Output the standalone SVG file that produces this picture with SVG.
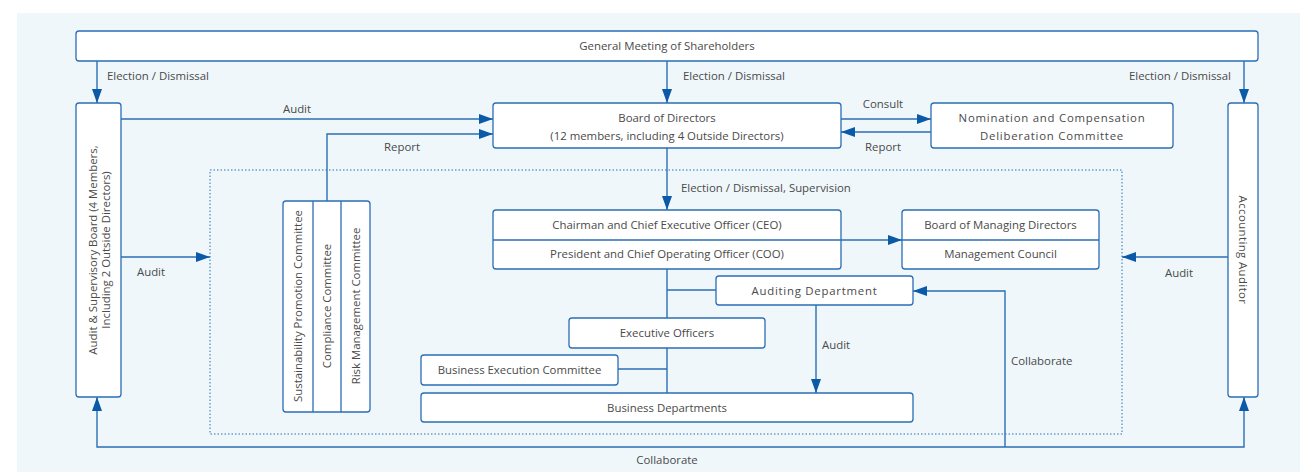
<svg xmlns="http://www.w3.org/2000/svg" width="1303" height="472" viewBox="0 0 1303 472">
<style>
.bx{fill:#fff;stroke:#2a6fb5;stroke-width:1.3}
.dv{stroke:#2a6fb5;stroke-width:1.3;fill:none}
.ln{stroke:#2a6fb5;stroke-width:1.4;fill:none}
.t{font-family:"Open Sans","Noto Sans","Liberation Sans",sans-serif;font-size:11.4px;fill:#4a4a4a;font-weight:400}
.c{text-anchor:middle}
.sp{letter-spacing:0.75px}
</style>
<defs>
<marker id="ah" viewBox="0 0 14 10" refX="14" refY="5" markerWidth="14" markerHeight="10" markerUnits="userSpaceOnUse" orient="auto-start-reverse">
<path d="M0 0L14 5L0 10Z" fill="#0a5aa8"/>
</marker>
</defs>
<rect x="17" y="13" width="1283" height="459" fill="#eff7fb"/>
<rect x="210" y="170" width="912" height="264" fill="none" stroke="#2a6fb5" stroke-width="1" stroke-dasharray="1.5 2"/>

<g id="connectors">
<path class="ln" d="M97 61V103" marker-end="url(#ah)"/>
<path class="ln" d="M667 61V103" marker-end="url(#ah)"/>
<path class="ln" d="M1244 61V103" marker-end="url(#ah)"/>
<path class="ln" d="M121 119H493" marker-end="url(#ah)"/>
<path class="ln" d="M327 201V134H493" marker-end="url(#ah)"/>
<path class="ln" d="M841 119H931" marker-end="url(#ah)"/>
<path class="ln" d="M931 132H841" marker-end="url(#ah)"/>
<path class="ln" d="M667 148V210" marker-end="url(#ah)"/>
<path class="ln" d="M121 257H210" marker-end="url(#ah)"/>
<path class="ln" d="M1228 257H1122" marker-end="url(#ah)"/>
<path class="ln" d="M841 240H902" marker-end="url(#ah)"/>
<path class="ln" d="M667 269V393"/>
<path class="ln" d="M667 290H716"/>
<path class="ln" d="M618 369H667"/>
<path class="ln" d="M816 305V393" marker-end="url(#ah)"/>
<path class="ln" d="M1005 447V291H913" marker-end="url(#ah)"/>
<path class="ln" d="M97 397V447H1244V397" marker-start="url(#ah)" marker-end="url(#ah)"/>
<text class="t" x="107" y="80">Election / Dismissal</text>
<text class="t" x="683" y="80">Election / Dismissal</text>
<text class="t" x="1129" y="80">Election / Dismissal</text>
<text class="t c" x="297" y="113">Audit</text>
<text class="t c" x="402" y="151">Report</text>
<text class="t c" x="883" y="108">Consult</text>
<text class="t c" x="883" y="151">Report</text>
<text class="t" x="681" y="192">Election / Dismissal, Supervision</text>
<text class="t c" x="151" y="276">Audit</text>
<text class="t c" x="1179" y="277">Audit</text>
<text class="t" x="822" y="349">Audit</text>
<text class="t" x="1011" y="365">Collaborate</text>
<text class="t c" x="667" y="464">Collaborate</text>
</g>

<g id="gms">
<rect class="bx" x="76" y="31" width="1182" height="30" rx="3"/>
<text class="t c" x="667" y="50">General Meeting of Shareholders</text>
</g>

<g id="asb">
<rect class="bx" x="76" y="103" width="45" height="294" rx="3"/>
<text class="t c" transform="translate(98.5 250) rotate(-90)"><tspan x="0" y="-2">Audit &amp; Supervisory Board (4 Members,</tspan><tspan x="0" y="11">Including 2 Outside Directors)</tspan></text>
</g>

<g id="aa">
<rect class="bx" x="1228" y="103" width="30" height="294" rx="3"/>
<text class="t c" transform="translate(1243 250) rotate(90)" y="4" letter-spacing="0.4">Accounting Auditor</text>
</g>

<g id="bod">
<rect class="bx" x="493" y="103" width="348" height="45" rx="3"/>
<text class="t c" x="667" y="122">Board of Directors</text>
<text class="t c" x="667" y="140">(12 members, including 4 Outside Directors)</text>
</g>

<g id="ncdc">
<rect class="bx" x="931" y="103" width="242" height="45" rx="3"/>
<text class="t c sp" x="1052" y="122">Nomination and Compensation</text>
<text class="t c sp" x="1052" y="140">Deliberation Committee</text>
</g>

<g id="committees">
<rect class="bx" x="283" y="201" width="87" height="211" rx="3"/>
<path class="dv" d="M313 201V412M341 201V412"/>
<text class="t c" transform="translate(298 306) rotate(-90)" y="4">Sustainability Promotion Committee</text>
<text class="t c" transform="translate(327 306) rotate(-90)" y="4">Compliance Committee</text>
<text class="t c" transform="translate(355.5 306) rotate(-90)" y="4">Risk Management Committee</text>
</g>

<g id="ceo">
<rect class="bx" x="493" y="210" width="348" height="59" rx="3"/>
<path class="dv" d="M493 240H841"/>
<text class="t c" x="667" y="229">Chairman and Chief Executive Officer (CEO)</text>
<text class="t c" x="667" y="258">President and Chief Operating Officer (COO)</text>
</g>

<g id="bmd">
<rect class="bx" x="902" y="210" width="197" height="59" rx="3"/>
<path class="dv" d="M902 240H1099"/>
<text class="t c" x="1000.5" y="229">Board of Managing Directors</text>
<text class="t c" x="1000.5" y="258">Management Council</text>
</g>

<g id="auditdept">
<rect class="bx" x="716" y="276" width="197" height="29" rx="3"/>
<text class="t c sp" x="814.5" y="295">Auditing Department</text>
</g>

<g id="execofficers">
<rect class="bx" x="569" y="318" width="196" height="30" rx="3"/>
<text class="t c" x="667" y="337">Executive Officers</text>
</g>

<g id="bec">
<rect class="bx" x="421" y="355" width="197" height="30" rx="3"/>
<text class="t c" x="519.5" y="374">Business Execution Committee</text>
</g>

<g id="bizdept">
<rect class="bx" x="421" y="393" width="492" height="29" rx="3"/>
<text class="t c" x="667" y="412">Business Departments</text>
</g>
</svg>
